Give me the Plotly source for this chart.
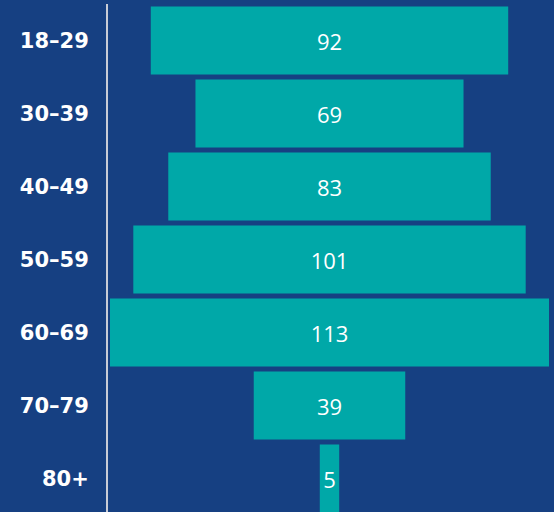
import plotly.graph_objects as go

age_groups = ["18–29", "30–39", "40–49", "50–59", "60–69", "70–79", "80+"]
counts = [92, 69, 83, 101, 113, 39, 5]

BG = "#164082"
TEAL = "#00A8A8"

fig = go.Figure(go.Funnel(
    y=age_groups,
    x=counts,
    text=[str(c) for c in counts],
    textinfo="text",
    textposition="inside",
    insidetextanchor="middle",
    textfont=dict(color="white", size=22, family="Open Sans"),
    marker=dict(color=TEAL, line=dict(width=0)),
    connector=dict(visible=False),
    constraintext="none",
))

half = max(counts) / 2 * 443 / 439
fig.update_layout(
    width=554, height=515,
    margin=dict(l=108, r=3, t=4, b=0),
    paper_bgcolor=BG, plot_bgcolor=BG,
    showlegend=False,
    funnelgap=0.068,
    xaxis=dict(visible=False, range=[-half, half]),
    yaxis=dict(
        showline=True, linecolor="#c8ccd6", linewidth=2,
        showgrid=False, zeroline=False,
        ticks="outside", ticklen=13, tickcolor="rgba(0,0,0,0)",
        tickfont=dict(color="white", size=21, family="DejaVu Sans", weight="bold"),
        autorange="reversed",
    ),
)

fig.write_html(
    "out.html",
    config={"displayModeBar": False},
    post_script="document.body.style.margin='0';document.body.style.padding='0';document.body.style.overflow='hidden';",
)
